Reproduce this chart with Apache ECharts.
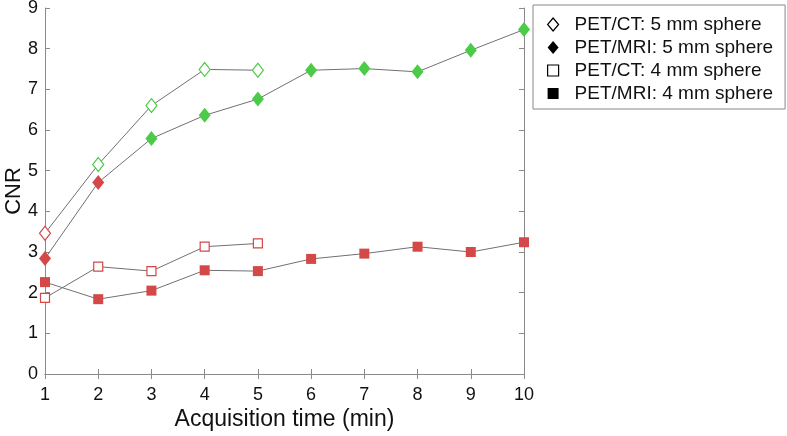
<!DOCTYPE html>
<html><head><meta charset="utf-8">
<script src="https://cdn.jsdelivr.net/npm/echarts@6/dist/echarts.min.js"></script>
<style>html,body{margin:0;padding:0;background:#fff}#c{width:787px;height:436px}</style>
</head><body><div id="c"></div>
<script>
const times = [1,2,3,4,5,6,7,8,9,10];
const yTicks = [0,1,2,3,4,5,6,7,8,9];
const ctFive = [3.46,5.15,6.60,7.49,7.47];
const mriFive = [2.84,4.71,5.79,6.36,6.76,7.47,7.51,7.43,7.96,8.47];
const ctFour = [1.87,2.64,2.53,3.13,3.21];
const mriFour = [2.26,1.84,2.05,2.55,2.53,2.83,2.96,3.13,3.00,3.24];
// significance colouring: red = significant point
const ctFiveRed = [true,false,false,false,false];
const mriFiveRed = [true,true,false,false,false,false,false,false,false,false];
const names = ['PET/CT: 5 mm sphere','PET/MRI: 5 mm sphere','PET/CT: 4 mm sphere','PET/MRI: 4 mm sphere'];

const RED = '#d44848', GREEN = '#4ccb49', LINE = '#707070', AX = '#8a8a8a';
const font = 'Liberation Sans, Arial, Helvetica, sans-serif';

function pts(vals, reds, open) {
  return vals.map((v,i) => {
    const c = reds ? (reds[i] ? RED : GREEN) : RED;
    return {value:[times[i], v], itemStyle: open ? {color:'#fff', borderColor:c, borderWidth:1.2} : {color:c, borderColor:c, borderWidth:0}};
  });
}
function ser(name, data, sym, size) {
  return {name, type:'line', data, symbol:sym, symbolSize:size, showSymbol:true,
    lineStyle:{color:LINE, width:1}, z:3, animation:false, emphasis:{disabled:true}};
}
const chart = echarts.init(document.getElementById('c'), null, {renderer:'canvas'});
chart.setOption({
  animation:false,
  grid:{left:45, right:263, top:8, bottom:62, containLabel:false, outerBoundsMode:'none'},
  legend:{
    left:533, top:5, orient:'vertical', itemGap:4, itemWidth:11, itemHeight:13,
    borderColor:'#888', borderWidth:1, padding:[10,12,6,14],
    textStyle:{fontFamily:font, fontSize:19, color:'#111', padding:[0,0,0,11]},
    data:[
      {name:names[0], icon:'diamond', itemStyle:{color:'#fff', borderColor:'#000', borderWidth:1.2}},
      {name:names[1], icon:'diamond', itemStyle:{color:'#000', borderColor:'#000'}},
      {name:names[2], icon:'path://M0,0H10V10H0Z', itemStyle:{color:'#fff', borderColor:'#000', borderWidth:1.2}},
      {name:names[3], icon:'path://M0,0H10V10H0Z', itemStyle:{color:'#000', borderColor:'#000'}}
    ]
  },
  xAxis:[
    {type:'value', min:1, max:10, interval:1, position:'bottom',
     name:'Acquisition time (min)', nameLocation:'middle', nameGap:34, nameMoveOverlap:false,
     nameTextStyle:{fontFamily:font, fontSize:23, color:'#111'},
     axisLine:{lineStyle:{color:AX}}, axisTick:{inside:true, length:5, lineStyle:{color:AX}},
     axisLabel:{fontFamily:font, fontSize:18, color:'#111', margin:12}, splitLine:{show:false}},
    {type:'value', min:1, max:10, interval:1, position:'top',
     axisLine:{lineStyle:{color:AX}}, axisTick:{inside:true, length:5, lineStyle:{color:AX}},
     axisLabel:{show:false}, splitLine:{show:false}}
  ],
  yAxis:[
    {type:'value', min:0, max:9, interval:1, position:'left',
     name:'CNR', nameLocation:'middle', nameGap:20, nameMoveOverlap:false,
     nameTextStyle:{fontFamily:font, fontSize:22, color:'#111'},
     axisLine:{show:true, lineStyle:{color:AX}}, axisTick:{show:true, inside:true, length:5, lineStyle:{color:AX}},
     axisLabel:{fontFamily:font, fontSize:18, color:'#111', margin:7, formatter:v=>yTicks.includes(v)?String(v):''}, splitLine:{show:false}},
    {type:'value', min:0, max:9, interval:1, position:'right',
     axisLine:{show:true, lineStyle:{color:AX}}, axisTick:{show:true, inside:true, length:5, lineStyle:{color:AX}},
     axisLabel:{show:false}, splitLine:{show:false}}
  ],
  series:[
    ser(names[0], pts(ctFive, ctFiveRed, true), 'diamond', [11,14]),
    ser(names[1], pts(mriFive, mriFiveRed, false), 'diamond', [12,15]),
    ser(names[2], pts(ctFour, null, true), 'rect', [9,9]),
    ser(names[3], pts(mriFour, null, false), 'rect', [10,10])
  ]
});
</script></body></html>
